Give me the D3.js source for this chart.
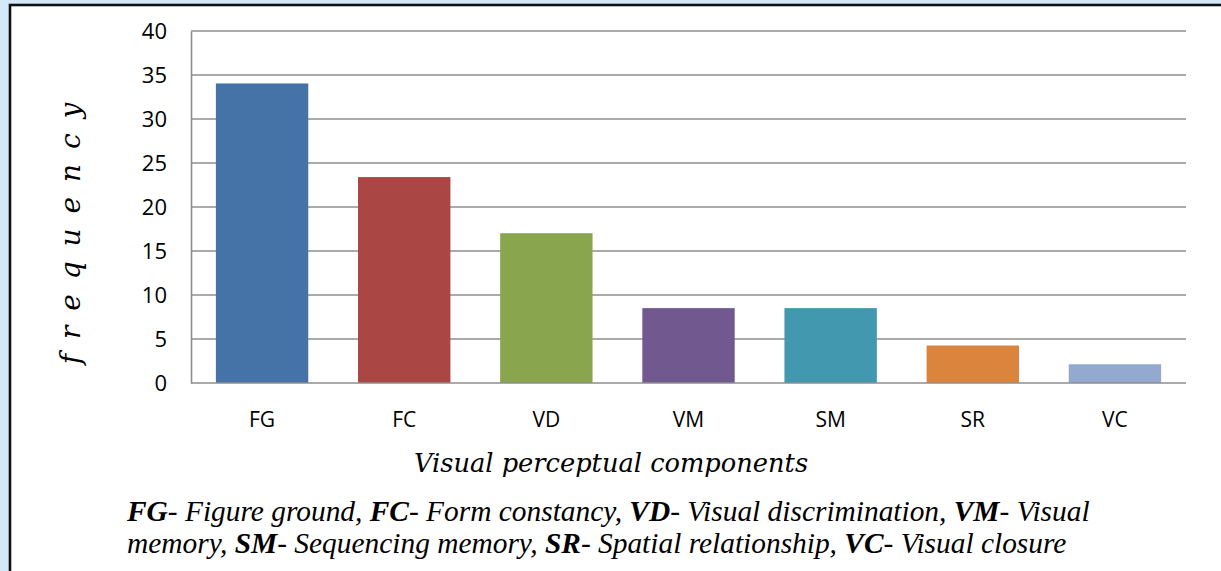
<!DOCTYPE html>
<html>
<head>
<meta charset="utf-8">
<script src="https://cdn.jsdelivr.net/npm/d3@7"></script>
<style>
  html, body { margin: 0; padding: 0; background: #d3e9f7; }
  svg { display: block; }
</style>
</head>
<body>
<svg id="chart" width="1221" height="571"></svg>
<script>
// Frequency of each visual perceptual component
const categories = ["FG", "FC", "VD", "VM", "SM", "SR", "VC"];
const values = [34.04, 23.4, 17.02, 8.51, 8.51, 4.26, 2.13];
const barColors = ["#4572A7", "#AA4643", "#89A54E", "#71588F", "#4198AF", "#DB843D", "#93A9CF"];
const yTicks = [0, 5, 10, 15, 20, 25, 30, 35, 40];

// Abbreviation key shown under the chart, two lines
const captionLines = [
  [["FG", true], ["- Figure ground, ", false], ["FC", true], ["- Form constancy, ", false],
   ["VD", true], ["- Visual discrimination, ", false], ["VM", true], ["- Visual", false]],
  [["memory, ", false], ["SM", true], ["- Sequencing memory, ", false], ["SR", true],
   ["- Spatial relationship, ", false], ["VC", true], ["- Visual closure", false]]
];

const svg = d3.select("#chart");

// light blue page with a framed white panel
svg.append("rect").attr("x", 0).attr("y", 0).attr("width", 1221).attr("height", 571).attr("fill", "#d3e9f7");
svg.append("rect").attr("x", 10).attr("y", 5).attr("width", 1230).attr("height", 600)
  .attr("fill", "#ffffff").attr("stroke", "#111").attr("stroke-width", 2.6);

const plot = { left: 191, right: 1186, top: 31, bottom: 383 };

const x = d3.scaleBand().domain(categories).range([plot.left, plot.right]).paddingInner(0.35).paddingOuter(0.175);
const y = d3.scaleLinear().domain([0, 40]).range([plot.bottom, plot.top]);

// horizontal gridlines
svg.append("g")
  .selectAll("line").data(yTicks.filter(d => d > 0)).join("line")
  .attr("x1", plot.left).attr("x2", plot.right)
  .attr("y1", d => y(d)).attr("y2", d => y(d))
  .attr("stroke", "#8e8e8e").attr("stroke-width", 1.6);

// bars
svg.append("g")
  .selectAll("rect").data(values).join("rect")
  .attr("x", (d, i) => x(categories[i]))
  .attr("width", x.bandwidth())
  .attr("y", d => y(d))
  .attr("height", d => y(0) - y(d))
  .attr("fill", (d, i) => barColors[i]);

// y axis
const yAxis = svg.append("g").attr("transform", `translate(${plot.left},0)`)
  .call(d3.axisLeft(y).tickValues(yTicks).tickSize(0).tickPadding(24));
yAxis.select(".domain").attr("stroke", "#8e8e8e").attr("stroke-width", 1.6);
yAxis.selectAll("text").attr("font-family", "'Open Sans', sans-serif").attr("font-size", 22).attr("fill", "#000");

// x axis
const xAxis = svg.append("g").attr("transform", `translate(0,${plot.bottom})`)
  .call(d3.axisBottom(x).tickSize(0).tickPadding(29));
xAxis.select(".domain").attr("stroke", "#8e8e8e").attr("stroke-width", 1.6).attr("d", `M${plot.left},0H${plot.right}`);
xAxis.selectAll("text").attr("font-family", "'Open Sans', sans-serif").attr("font-size", 21).attr("fill", "#000");

// axis titles
svg.append("text")
  .attr("x", 611).attr("y", 472)
  .attr("text-anchor", "middle")
  .attr("font-family", "'DejaVu Serif', serif").attr("font-style", "italic")
  .attr("font-size", 25.7).attr("fill", "#000")
  .text("Visual perceptual components");

svg.append("text")
  .attr("transform", "translate(80,232) rotate(-90)")
  .attr("text-anchor", "middle")
  .attr("font-family", "'DejaVu Serif', serif").attr("font-style", "italic")
  .attr("font-size", 28).attr("letter-spacing", 3).attr("fill", "#000")
  .text("f r e q u e n c y");

// caption
const cap = svg.append("g").attr("font-family", "'Liberation Serif', 'Times New Roman', serif")
  .attr("font-style", "italic").attr("font-size", 29.4).attr("fill", "#000");
captionLines.forEach((parts, li) => {
  const t = cap.append("text").attr("x", 127).attr("y", 521 + li * 32);
  parts.forEach(([s, b]) => {
    t.append("tspan").attr("font-weight", b ? "bold" : "normal").text(s);
  });
});
</script>
</body>
</html>
